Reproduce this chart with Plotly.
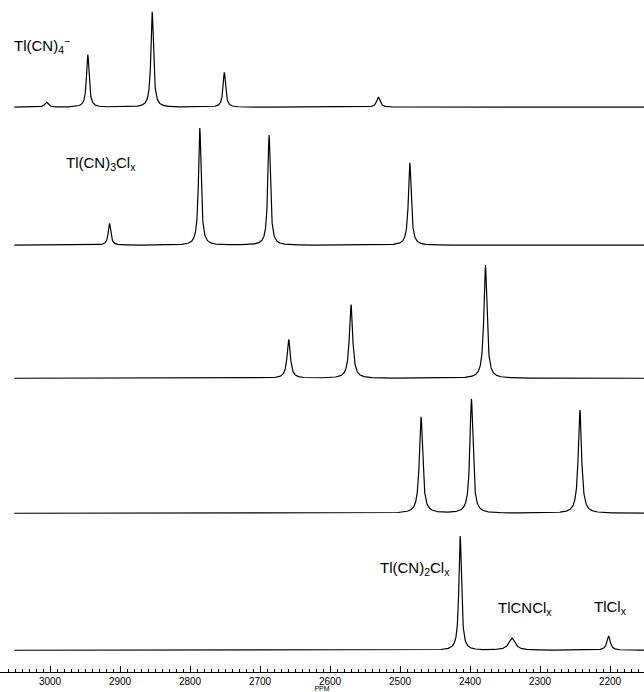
import numpy as np
import plotly.graph_objects as go

# Peak tables (chemical shift in ppm, peak height, half-width in ppm) for each stacked spectrum
shift_1 = [3005, 2946, 2854, 2751, 2531]
height_1 = [5, 53, 96, 35, 10]
width_1 = [3.0, 2.2, 2.2, 2.2, 3.0]

shift_2 = [2915, 2786, 2687, 2486]
height_2 = [22, 118, 111, 83]
width_2 = [2.2, 2.2, 2.2, 2.4]

shift_3 = [2659, 2570, 2378]
height_3 = [39, 74, 114]
width_3 = [2.8, 2.8, 2.6]

shift_4 = [2470, 2398, 2243]
height_4 = [97, 115, 104]
width_4 = [2.8, 2.6, 2.8]

shift_5 = [2414, 2340, 2202]
height_5 = [115, 12, 14]
width_5 = [2.2, 5.5, 3.0]

species_labels = ["Tl(CN)<sub>4</sub><sup>−</sup>", "Tl(CN)<sub>3</sub>Cl<sub>x</sub>",
                  "Tl(CN)<sub>2</sub>Cl<sub>x</sub>", "TlCNCl<sub>x</sub>", "TlCl<sub>x</sub>"]
label_ppm = [3012, 2927, 2479, 2322, 2200]
label_height = [62, 82, 82, 42, 43]
label_panel = [1, 2, 5, 5, 5]

tick_values = [3000, 2900, 2800, 2700, 2600, 2500, 2400, 2300, 2200]

W, H = 644, 692
ppm = np.arange(3051.0, 2151.0, -0.25)


def lorentz_sum(shifts, heights, widths):
    y = np.zeros_like(ppm)
    for c, h, w in zip(shifts, heights, widths):
        y += h * w**2 / ((ppm - c) ** 2 + w**2)
    return y


panels = [
    (shift_1, height_1, width_1),
    (shift_2, height_2, width_2),
    (shift_3, height_3, width_3),
    (shift_4, height_4, width_4),
    (shift_5, height_5, width_5),
]
# baseline pixel row of each spectrum, top to bottom
baseline_px = [108, 247, 381, 517, 655]
y_lo, y_hi = -8, 125

fig = go.Figure()
layout = dict(
    width=W, height=H,
    margin=dict(l=0, r=0, t=0, b=0),
    paper_bgcolor="white", plot_bgcolor="rgba(0,0,0,0)",
    showlegend=False,
    font=dict(family="Liberation Sans, Arial, sans-serif", color="black"),
)

for i, (s, h, w) in enumerate(panels):
    n = i + 1
    yname = "y" if n == 1 else f"y{n}"
    fig.add_trace(go.Scatter(
        x=ppm, y=lorentz_sum(s, h, w), mode="lines",
        line=dict(color="black", width=1.2),
        xaxis="x", yaxis=yname, hoverinfo="skip",
    ))
    b = baseline_px[i]
    bottom = (H - (b - y_lo)) / H
    top = min(1.0, (H - (b - y_hi)) / H)
    hi = y_hi if top < 1.0 else b
    key = "yaxis" if n == 1 else f"yaxis{n}"
    layout[key] = dict(domain=[bottom, top], range=[y_lo, hi], visible=False,
                       fixedrange=True)

x_left = 3000 + 50 / 0.70
x_right = 3000 - (W - 50) / 0.70
layout["xaxis"] = dict(
    range=[x_left, x_right], anchor="free", position=(H - 677) / H,
    showline=True, linecolor="black", linewidth=1,
    showgrid=False, zeroline=False,
    tickvals=tick_values, ticktext=[str(v) for v in tick_values],
    ticks="inside", ticklen=6, tickwidth=1, tickcolor="black",
    minor=dict(dtick=10, ticks="inside", ticklen=3, tickwidth=1, tickcolor="black"),
    tickfont=dict(size=10),
    title=dict(text="PPM", font=dict(size=7), standoff=0),
)
fig.update_layout(**layout)

for txt, xp, yh, p in zip(species_labels, label_ppm, label_height, label_panel):
    fig.add_annotation(
        x=xp, y=yh, xref="x", yref="y" if p == 1 else f"y{p}",
        text=txt, showarrow=False, xanchor="center", yanchor="middle",
        font=dict(size=15, color="black"),
    )

fig.write_html("out.html")
